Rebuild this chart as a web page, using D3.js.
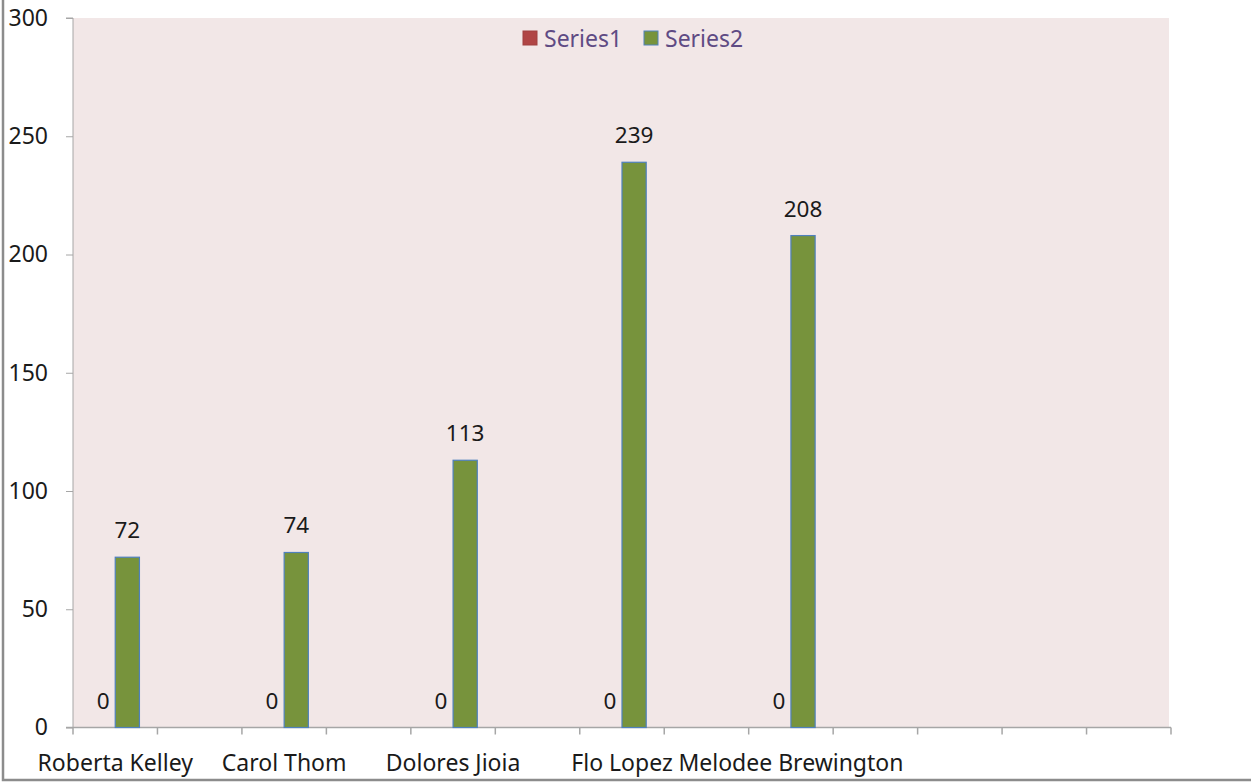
<!DOCTYPE html>
<html><head><meta charset="utf-8">
<script src="https://cdn.jsdelivr.net/npm/d3@7"></script>
<style>body{margin:0;background:#fff}svg{display:block}text{font-family:"Noto Sans",sans-serif}</style>
</head><body>
<svg id="c" width="1251" height="783"></svg>
<script>
const categories = ["Roberta Kelley","","Carol Thom","","Dolores Jioia","","Flo Lopez","","Melodee Brewington","","","",""];
const series1 = [0,null,0,null,0,null,0,null,0,null,null,null,null];
const series2 = [72,null,74,null,113,null,239,null,208,null,null,null,null];
const seriesNames = ["Series1","Series2"];
const yTicks = [0,50,100,150,200,250,300];

const svg = d3.select("#c");
const L=73, R=1171, T=18, B=727.5;
svg.append("path").attr("d","M3,-5V780H1260").attr("fill","none").attr("stroke","#8c8c8c").attr("stroke-width",2.5);
svg.append("rect").attr("x",L).attr("y",T).attr("width",R-L-2).attr("height",B-T).attr("fill","#F2E7E7");

const x0 = d3.scaleBand().domain(d3.range(categories.length)).range([L,R]).padding(0);
const x1 = d3.scaleBand().domain([0,1]).range([0,x0.bandwidth()]).paddingInner(0).paddingOuter(0.745);
const y = d3.scaleLinear().domain([0,300]).range([B,T]);

const ya = svg.append("g").attr("transform",`translate(${L},0)`)
  .call(d3.axisLeft(y).tickValues(yTicks).tickSize(7).tickPadding(18));
ya.select(".domain").attr("stroke","#a6a6a6").attr("d",`M-7,${T}H0V${B}`);
ya.selectAll(".tick line").attr("stroke","#a6a6a6");
ya.selectAll(".tick text").attr("font-size",23).attr("fill","#1a1a1a").attr("font-family","Noto Sans");

const xa = svg.append("g").attr("transform",`translate(0,${B})`)
  .call(d3.axisBottom(x0).tickFormat(i=>categories[i]).tickSize(0).tickPadding(0));
xa.select(".domain").remove();
xa.selectAll(".tick text").attr("font-size",23).attr("fill","#1a1a1a").attr("font-family","Noto Sans").attr("dy",null).attr("y",43.5).attr("dominant-baseline","auto");
const tickPos = d3.range(categories.length+1).map(i=>i<categories.length?x0(i):R);
svg.append("line").attr("x1",L-7).attr("x2",R).attr("y1",B).attr("y2",B).attr("stroke","#a6a6a6").attr("stroke-width",1.5);
svg.selectAll(".xt").data(tickPos).join("line").attr("x1",d=>d).attr("x2",d=>d).attr("y1",B).attr("y2",B+7).attr("stroke","#a6a6a6").attr("stroke-width",1.5);

const data = categories.map((c,i)=>({i, v:[series1[i],series2[i]]}));
const fills=["#B04545","#77933C"], strokes=["#8E3A3A","#4F81BD"];
const g = svg.selectAll(".cat").data(data).join("g").attr("transform",d=>`translate(${x0(d.i)},0)`);
g.selectAll("rect").data(d=>d.v.map((v,s)=>({v,s})).filter(e=>e.v!==null)).join("rect")
  .attr("x",e=>x1(e.s)).attr("width",x1.bandwidth())
  .attr("y",e=>y(e.v)).attr("height",e=>B-y(e.v))
  .attr("fill",e=>fills[e.s]).attr("stroke",e=>e.v>0?strokes[e.s]:"none").attr("stroke-width",1.2);
g.selectAll("text").data(d=>d.v.map((v,s)=>({v,s})).filter(e=>e.v!==null)).join("text")
  .attr("x",e=>x1(e.s)+x1.bandwidth()/2).attr("y",e=>y(e.v)-19)
  .attr("text-anchor","middle").attr("font-size",22.5).attr("fill","#1a1a1a").text(e=>e.v);

const leg = svg.append("g");
const lx=[523,644];
seriesNames.forEach((n,s)=>{
  leg.append("rect").attr("x",lx[s]).attr("y",31).attr("width",14).attr("height",14).attr("fill",fills[s]).attr("stroke",s?"#4F81BD":"#a04040").attr("stroke-width",1);
  leg.append("text").attr("x",lx[s]+21).attr("y",46.5).attr("font-size",23).attr("fill","#5F4B84").text(n);
});
</script></body></html>
